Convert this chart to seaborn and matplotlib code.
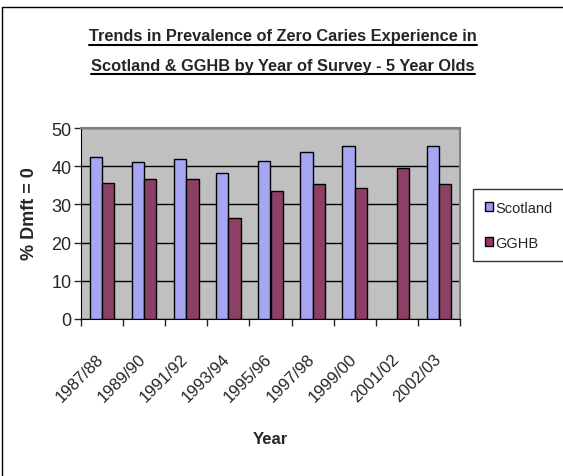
import numpy as np
import pandas as pd
import matplotlib
matplotlib.use("Agg")
import matplotlib.pyplot as plt
import matplotlib.transforms as mtransforms
import seaborn as sns
from matplotlib.lines import Line2D
from matplotlib.patches import Patch

# datos
years = ["1987/88", "1989/90", "1991/92", "1993/94", "1995/96",
         "1997/98", "1999/00", "2001/02", "2002/03"]
scotland = [42.3, 41.0, 41.8, 38.3, 41.4, 43.6, 45.4, np.nan, 45.4]
gghb = [35.7, 36.6, 36.6, 26.4, 33.5, 35.3, 34.4, 39.6, 35.3]
series = ["Scotland", "GGHB"]
colores = ["#9999FF", "#993366"]

df = pd.DataFrame({
    "year": years * 2,
    "serie": [series[0]] * len(years) + [series[1]] * len(years),
    "valor": scotland + gghb,
})

sns.set_style("white")
plt.rcParams['font.family'] = ['Liberation Sans', 'DejaVu Sans']

fig = plt.figure(figsize=(5.63, 4.77), dpi=100)
ax = fig.add_axes([81 / 563, 1 - 320 / 477, 379 / 563, 191 / 477])
ax.set_facecolor("#C0C0C0")

sns.barplot(data=df, x="year", y="valor", hue="serie", palette=colores,
            width=0.585, edgecolor="black", linewidth=1, ax=ax, legend=False,
            zorder=3)

ax.set_ylim(0, 50)
ax.set_xlim(-0.5, len(years) - 0.5)
ax.set_yticks([0, 10, 20, 30, 40, 50])
ax.yaxis.grid(True, color="black", linewidth=1, zorder=0)
ax.set_axisbelow(True)
for s in ["top", "right"]:
    ax.spines[s].set_color("#808080")
    ax.spines[s].set_linewidth(1.5)
ax.spines["left"].set_color("black")
ax.spines["bottom"].set_color("black")

ax.tick_params(axis="y", labelsize=13, length=5, width=1, pad=2, left=True, direction="out")
ax.set_xticks(range(len(years)))
ax.set_xticklabels(years, rotation=45, ha="right", rotation_mode="anchor", fontsize=12)
ax.tick_params(axis="x", length=0, pad=23)
ax.set_xticks(np.arange(-0.5, len(years)), minor=True)
ax.tick_params(axis="x", which="minor", length=5, width=1, bottom=True, direction="out")
desplazamiento = mtransforms.ScaledTranslation(-6 / 100, 0, fig.dpi_scale_trans)
for lab in ax.get_xticklabels():
    lab.set_transform(lab.get_transform() + desplazamiento)

ax.set_xlabel("Year", fontsize=12, fontweight="bold", labelpad=19)
ax.set_ylabel("% Dmft = 0", fontsize=13, fontweight="bold")
ax.yaxis.set_label_coords(-0.113, 0.555)

handles = [Patch(facecolor=c, edgecolor="black", linewidth=1) for c in colores]
leg = fig.legend(handles, series, loc="upper left", bbox_to_anchor=(473 / 563, 1 - 190 / 477),
                 frameon=True, fancybox=False, edgecolor="black", fontsize=10.5,
                 handlelength=0.6, handleheight=0.6, handletextpad=0.15,
                 labelspacing=1.45, borderpad=0.8, borderaxespad=0)
leg.get_frame().set_linewidth(1)

# titulo en dos lineas, subrayado
t1 = fig.text(283 / 563, 1 - 37 / 477, "Trends in Prevalence of Zero Caries Experience in",
              ha="center", va="center", fontsize=11.8, fontweight="bold")
t2 = fig.text(283 / 563, 1 - 66 / 477, "Scotland & GGHB by Year of Survey - 5 Year Olds",
              ha="center", va="center", fontsize=11.8, fontweight="bold")
fig.canvas.draw()
r = fig.canvas.get_renderer()
for t in [t1, t2]:
    bb = t.get_window_extent(r)
    y = bb.y0 - 1
    fig.add_artist(Line2D([bb.x0 / 563, bb.x1 / 563], [y / 477, y / 477],
                          color="black", linewidth=1.5, transform=fig.transFigure))

# borde del grafico (izquierda y arriba)
fig.add_artist(Line2D([1.5 / 563, 1.5 / 563, 1], [0, 1 - 8 / 477, 1 - 8 / 477],
                      color="black", linewidth=1, transform=fig.transFigure))

fig.savefig("out.png", dpi=100)
